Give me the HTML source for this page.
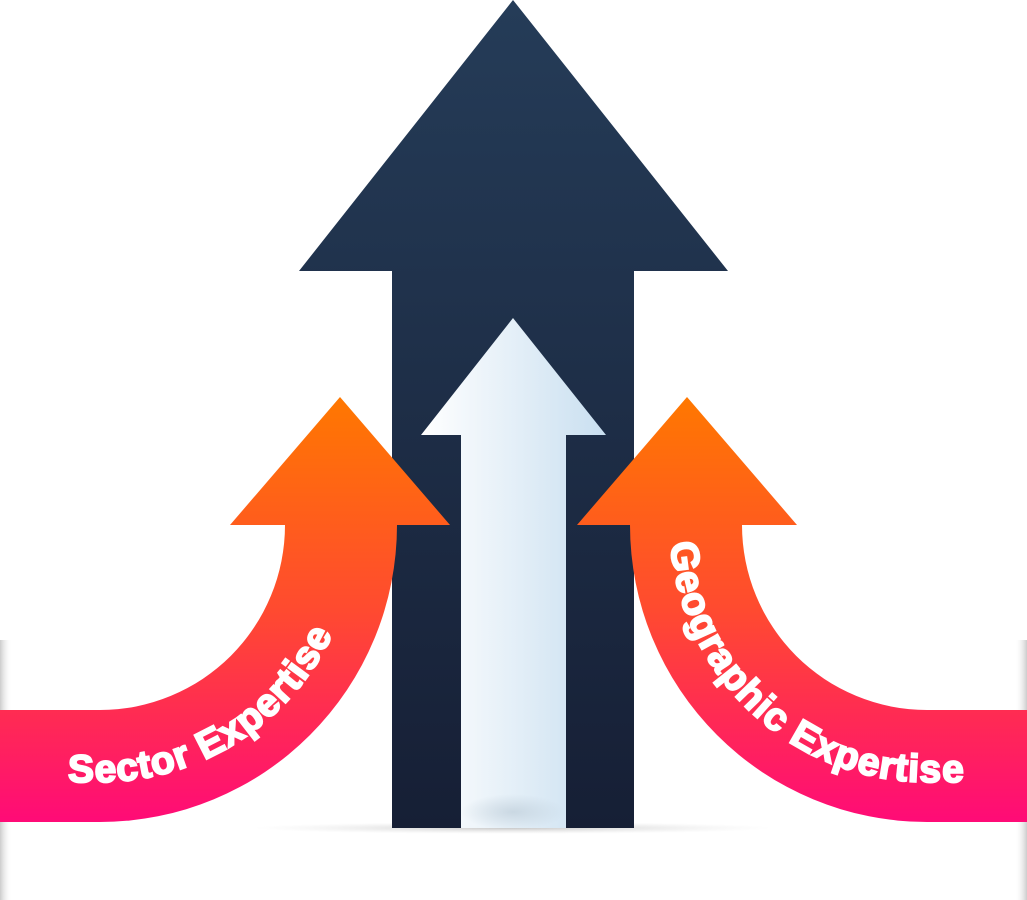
<!DOCTYPE html>
<html><head><meta charset="utf-8"><style>
html,body{margin:0;padding:0;background:#fff;}
svg{display:block;}
</style></head><body>
<svg width="1027" height="900" viewBox="0 0 1027 900" xmlns="http://www.w3.org/2000/svg">
<defs>
<linearGradient id="dark" x1="0" y1="0" x2="0" y2="1">
<stop offset="0" stop-color="#253c58"/><stop offset="1" stop-color="#161f35"/></linearGradient>
<linearGradient id="wh" x1="0" y1="0" x2="1" y2="0">
<stop offset="0" stop-color="#ffffff"/><stop offset="1" stop-color="#c9dff0"/></linearGradient>
<linearGradient id="org" x1="0" y1="397" x2="0" y2="825" gradientUnits="userSpaceOnUse">
<stop offset="0" stop-color="#ff7800"/><stop offset="0.5" stop-color="#ff4a30"/><stop offset="1" stop-color="#ff0a78"/></linearGradient>
<radialGradient id="sh" cx="0.5" cy="0.5" r="0.5">
<stop offset="0" stop-color="#bbb" stop-opacity="0.8"/><stop offset="1" stop-color="#ddd" stop-opacity="0"/></radialGradient>
<radialGradient id="bot" cx="0.5" cy="0.5" r="0.5">
<stop offset="0" stop-color="#b8c8d4" stop-opacity="0.6"/><stop offset="1" stop-color="#b8c8d4" stop-opacity="0"/></radialGradient>
<linearGradient id="edgeL" x1="0" y1="0" x2="1" y2="0">
<stop offset="0" stop-color="#999" stop-opacity="0.5"/><stop offset="1" stop-color="#fff" stop-opacity="0"/></linearGradient>
<linearGradient id="edgeR" x1="1" y1="0" x2="0" y2="0">
<stop offset="0" stop-color="#999" stop-opacity="0.5"/><stop offset="1" stop-color="#fff" stop-opacity="0"/></linearGradient>
<path id="pl" d="M0,782 L100,782 A257,257 0 0 0 357,525"/>
<path id="pr" d="M670,525 A257,257 0 0 0 927,782 L1027,782"/>
</defs>
<rect x="0" y="640" width="12" height="260" fill="url(#edgeL)"/>
<rect x="1015" y="640" width="12" height="260" fill="url(#edgeR)"/>
<ellipse cx="513" cy="828" rx="260" ry="6" fill="url(#sh)"/>
<polygon points="513,0 728,271 634,271 634,828 392,828 392,271 299,271" fill="url(#dark)"/>
<polygon points="513,318 606,435 566,435 566,828 461,828 461,435 421,435" fill="url(#wh)"/>
<ellipse cx="513" cy="812" rx="52" ry="18" fill="url(#bot)"/>
<path d="M0,710 L100,710 A185,185 0 0 0 285,525 L230,525 L340,397 L450,525 L397,525 A297,297 0 0 1 100,822 L0,822 Z" fill="url(#org)"/>
<path d="M1027,710 L927,710 A185,185 0 0 1 742,525 L797,525 L687,397 L577,525 L630,525 A297,297 0 0 0 927,822 L1027,822 Z" fill="url(#org)"/>
<text font-family="Liberation Sans, sans-serif" font-weight="bold" font-size="39" letter-spacing="1" fill="#fff" stroke="#fff" stroke-width="2"><textPath href="#pl" startOffset="68">Sector Expertise</textPath></text>
<text font-family="Liberation Sans, sans-serif" font-weight="bold" font-size="39" letter-spacing="1" fill="#fff" stroke="#fff" stroke-width="2"><textPath href="#pr" startOffset="18">Geographic Expertise</textPath></text>
</svg>
</body></html>
